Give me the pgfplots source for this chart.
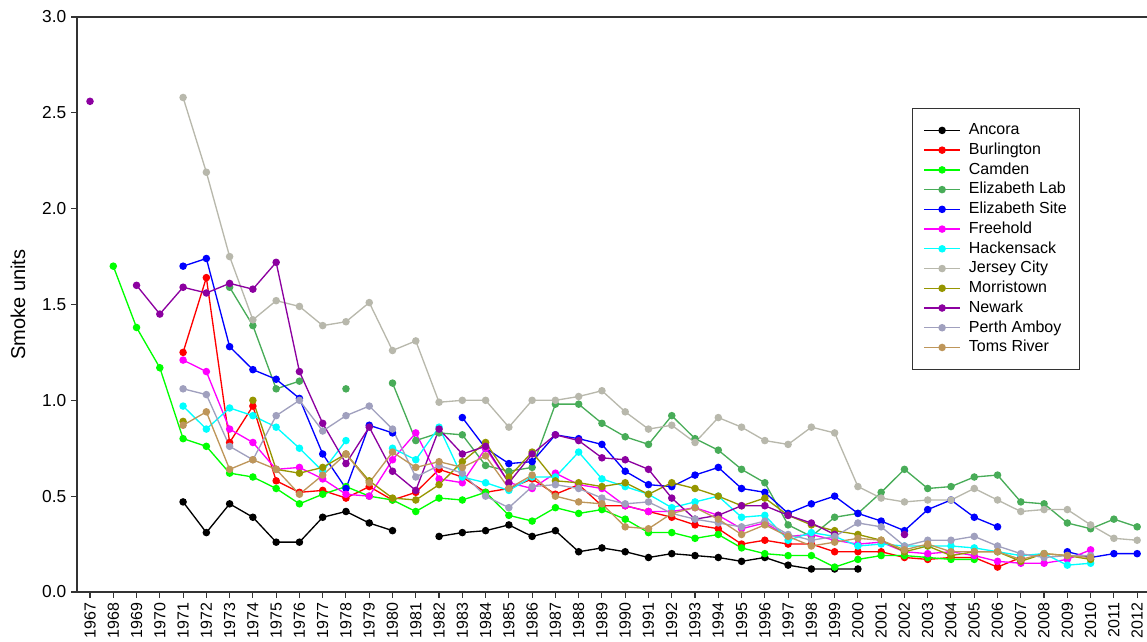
\documentclass[border=0pt]{standalone}
\usepackage{pgfplots}
\pgfplotsset{compat=1.18}
\usepackage{fontspec}
\setmainfont{Liberation Sans}
\definecolor{cAncora}{RGB}{0,0,0}
\definecolor{cBurl}{RGB}{255,0,0}
\definecolor{cCamden}{RGB}{0,255,0}
\definecolor{cElab}{RGB}{72,172,88}
\definecolor{cEsite}{RGB}{0,0,255}
\definecolor{cFree}{RGB}{255,0,255}
\definecolor{cHack}{RGB}{0,255,255}
\definecolor{cJersey}{RGB}{184,184,172}
\definecolor{cMorris}{RGB}{150,150,0}
\definecolor{cNewark}{RGB}{140,0,160}
\definecolor{cPerth}{RGB}{160,160,190}
\definecolor{cToms}{RGB}{190,150,90}
\begin{document}
\begin{tikzpicture}
\useasboundingbox (-57.75pt,-37.5pt) rectangle (802.5pt,444pt);
\begin{scope}
\clip (-57.75pt,-37.5pt) rectangle (802.5pt,444pt);
\begin{axis}[
  at={(0pt,0pt)}, anchor=south west,
  width=803.85pt, height=431.25pt, scale only axis,
  xmin=1966.441, xmax=2012.5, ymin=0, ymax=3,
  xtick={1967,...,2012}, ytick={0,0.5,...,3},
  tick align=outside, xtick pos=bottom, ytick pos=left,
  major tick length=4.5pt,
  axis line style={black!80, line width=0.9pt},
  tick style={black!80, line width=0.8pt},
  /pgf/number format/assume math mode=true,
  x tick label style={rotate=90, anchor=east, font=\fontsize{12}{14}\selectfont, /pgf/number format/1000 sep={}},
  y tick label style={font=\fontsize{13}{15}\selectfont, /pgf/number format/.cd, fixed, fixed zerofill, precision=1},
  ylabel={Smoke units},
  ylabel style={at={(axis description cs:-0.0551,0.5)}, anchor=center, font=\fontsize{15}{17}\selectfont},
  unbounded coords=jump,
  every axis plot/.append style={line width=1pt, mark=*, mark size=2.3pt},
  legend cell align=left,
  legend image code/.code={\draw[mark repeat=2,mark phase=2,#1] plot coordinates {(0pt,0pt) (13.5pt,0pt) (27pt,0pt)};},
  legend style={at={(rel axis cs:0.7793,0.8417)}, anchor=north west, draw=black!80, line width=0.8pt,
    font=\fontsize{12}{14}\selectfont, inner xsep=8pt, inner ysep=9pt, row sep=0pt, column sep=4.5pt,
    nodes={inner sep=1.6pt, text height=9pt, text depth=2.6pt}},
]
\addplot[cAncora] coordinates {(1971,0.47)(1972,0.31)(1973,0.46)(1974,0.39)(1975,0.26)(1976,0.26)(1977,0.39)(1978,0.42)(1979,0.36)(1980,0.32)(1981,nan)(1982,0.29)(1983,0.31)(1984,0.32)(1985,0.35)(1986,0.29)(1987,0.32)(1988,0.21)(1989,0.23)(1990,0.21)(1991,0.18)(1992,0.20)(1993,0.19)(1994,0.18)(1995,0.16)(1996,0.18)(1997,0.14)(1998,0.12)(1999,0.12)(2000,0.12)};
\addlegendentry{Ancora}
\addplot[cBurl] coordinates {(1971,1.25)(1972,1.64)(1973,0.78)(1974,0.97)(1975,0.58)(1976,0.52)(1977,0.53)(1978,0.49)(1979,0.55)(1980,0.48)(1981,0.52)(1982,0.64)(1983,0.60)(1984,0.52)(1985,0.54)(1986,0.59)(1987,0.51)(1988,0.56)(1989,0.45)(1990,0.45)(1991,0.42)(1992,0.39)(1993,0.35)(1994,0.33)(1995,0.25)(1996,0.27)(1997,0.25)(1998,0.25)(1999,0.21)(2000,0.21)(2001,0.21)(2002,0.18)(2003,0.17)(2004,0.18)(2005,0.18)(2006,0.13)(2007,0.18)};
\addlegendentry{Burlington}
\addplot[cCamden] coordinates {(1968,1.70)(1969,1.38)(1970,1.17)(1971,0.80)(1972,0.76)(1973,0.62)(1974,0.60)(1975,0.54)(1976,0.46)(1977,0.51)(1978,0.55)(1979,0.50)(1980,0.48)(1981,0.42)(1982,0.49)(1983,0.48)(1984,0.52)(1985,0.40)(1986,0.37)(1987,0.44)(1988,0.41)(1989,0.43)(1990,0.38)(1991,0.31)(1992,0.31)(1993,0.28)(1994,0.30)(1995,0.23)(1996,0.20)(1997,0.19)(1998,0.19)(1999,0.13)(2000,0.17)(2001,0.19)(2002,0.19)(2003,0.18)(2004,0.17)(2005,0.17)};
\addlegendentry{Camden}
\addplot[cElab] coordinates {(1973,1.59)(1974,1.39)(1975,1.06)(1976,1.10)(1977,nan)(1978,1.06)(1979,nan)(1980,1.09)(1981,0.79)(1982,0.83)(1983,0.82)(1984,0.66)(1985,0.63)(1986,0.65)(1987,0.98)(1988,0.98)(1989,0.88)(1990,0.81)(1991,0.77)(1992,0.92)(1993,0.80)(1994,0.74)(1995,0.64)(1996,0.57)(1997,0.35)(1998,0.29)(1999,0.39)(2000,0.41)(2001,0.52)(2002,0.64)(2003,0.54)(2004,0.55)(2005,0.60)(2006,0.61)(2007,0.47)(2008,0.46)(2009,0.36)(2010,0.33)(2011,0.38)(2012,0.34)};
\addlegendentry{Elizabeth Lab}
\addplot[cEsite] coordinates {(1971,1.70)(1972,1.74)(1973,1.28)(1974,1.16)(1975,1.11)(1976,1.01)(1977,0.72)(1978,0.54)(1979,0.87)(1980,0.83)(1981,nan)(1983,0.91)(1984,0.75)(1985,0.67)(1986,0.68)(1987,0.82)(1988,0.80)(1989,0.77)(1990,0.63)(1991,0.56)(1992,0.55)(1993,0.61)(1994,0.65)(1995,0.54)(1996,0.52)(1997,0.41)(1998,0.46)(1999,0.50)(2000,0.41)(2001,0.37)(2002,0.32)(2003,0.43)(2004,0.48)(2005,0.39)(2006,0.34)(2007,nan)(2009,0.21)(2010,0.18)(2011,0.20)(2012,0.20)};
\addlegendentry{Elizabeth Site}
\addplot[cFree] coordinates {(1971,1.21)(1972,1.15)(1973,0.85)(1974,0.78)(1975,0.64)(1976,0.65)(1977,0.59)(1978,0.51)(1979,0.50)(1980,0.69)(1981,0.83)(1982,0.59)(1983,0.57)(1984,0.75)(1985,0.57)(1986,0.54)(1987,0.62)(1988,0.56)(1989,0.54)(1990,0.45)(1991,0.42)(1992,0.42)(1993,0.44)(1994,0.40)(1995,0.33)(1996,0.36)(1997,0.29)(1998,0.30)(1999,0.27)(2000,0.25)(2001,0.26)(2002,0.21)(2003,0.20)(2004,0.21)(2005,0.19)(2006,0.16)(2007,0.15)(2008,0.15)(2009,0.17)(2010,0.22)};
\addlegendentry{Freehold}
\addplot[cHack] coordinates {(1971,0.97)(1972,0.85)(1973,0.96)(1974,0.92)(1975,0.86)(1976,0.75)(1977,0.63)(1978,0.79)(1979,nan)(1980,0.75)(1981,0.69)(1982,0.86)(1983,0.60)(1984,0.57)(1985,0.53)(1986,0.60)(1987,0.60)(1988,0.73)(1989,0.59)(1990,0.55)(1991,0.51)(1992,0.44)(1993,0.47)(1994,0.50)(1995,0.39)(1996,0.40)(1997,0.27)(1998,0.31)(1999,0.29)(2000,0.24)(2001,0.25)(2002,0.24)(2003,0.24)(2004,0.24)(2005,0.23)(2006,0.21)(2007,0.19)(2008,0.20)(2009,0.14)(2010,0.15)};
\addlegendentry{Hackensack}
\addplot[cJersey] coordinates {(1971,2.58)(1972,2.19)(1973,1.75)(1974,1.42)(1975,1.52)(1976,1.49)(1977,1.39)(1978,1.41)(1979,1.51)(1980,1.26)(1981,1.31)(1982,0.99)(1983,1.00)(1984,1.00)(1985,0.86)(1986,1.00)(1987,1.00)(1988,1.02)(1989,1.05)(1990,0.94)(1991,0.85)(1992,0.87)(1993,0.78)(1994,0.91)(1995,0.86)(1996,0.79)(1997,0.77)(1998,0.86)(1999,0.83)(2000,0.55)(2001,0.49)(2002,0.47)(2003,0.48)(2004,0.48)(2005,0.54)(2006,0.48)(2007,0.42)(2008,0.43)(2009,0.43)(2010,0.35)(2011,0.28)(2012,0.27)};
\addlegendentry{Jersey City}
\addplot[cMorris] coordinates {(1971,0.89)(1972,nan)(1974,1.00)(1975,0.64)(1976,0.62)(1977,0.65)(1978,0.72)(1979,0.58)(1980,0.49)(1981,0.48)(1982,0.56)(1983,0.68)(1984,0.78)(1985,0.60)(1986,0.73)(1987,0.58)(1988,0.57)(1989,0.55)(1990,0.57)(1991,0.51)(1992,0.57)(1993,0.54)(1994,0.50)(1995,0.45)(1996,0.49)(1997,0.40)(1998,0.35)(1999,0.32)(2000,0.30)(2001,0.27)(2002,0.21)(2003,0.24)(2004,0.19)(2005,0.21)(2006,0.21)(2007,0.16)(2008,0.20)(2009,0.19)(2010,0.17)};
\addlegendentry{Morristown}
\addplot[cNewark] coordinates {(1967,2.56)(1968,nan)(1969,1.60)(1970,1.45)(1971,1.59)(1972,1.56)(1973,1.61)(1974,1.58)(1975,1.72)(1976,1.15)(1977,0.88)(1978,0.67)(1979,0.86)(1980,0.63)(1981,0.53)(1982,0.85)(1983,0.72)(1984,0.76)(1985,0.57)(1986,0.72)(1987,0.82)(1988,0.79)(1989,0.70)(1990,0.69)(1991,0.64)(1992,0.49)(1993,0.38)(1994,0.40)(1995,0.45)(1996,0.45)(1997,0.40)(1998,0.36)(1999,0.30)(2000,nan)(2002,0.30)};
\addlegendentry{Newark}
\addplot[cPerth] coordinates {(1971,1.06)(1972,1.03)(1973,0.76)(1974,0.69)(1975,0.92)(1976,1.00)(1977,0.84)(1978,0.92)(1979,0.97)(1980,0.85)(1981,0.60)(1982,0.66)(1983,0.62)(1984,0.50)(1985,0.44)(1986,0.55)(1987,0.56)(1988,0.54)(1989,0.49)(1990,0.46)(1991,0.47)(1992,0.41)(1993,0.38)(1994,0.36)(1995,0.34)(1996,0.37)(1997,0.30)(1998,0.27)(1999,0.29)(2000,0.36)(2001,0.34)(2002,0.24)(2003,0.27)(2004,0.27)(2005,0.29)(2006,0.24)(2007,0.20)(2008,0.18)(2009,0.19)(2010,0.19)};
\addlegendentry{Perth Amboy}
\addplot[cToms] coordinates {(1971,0.87)(1972,0.94)(1973,0.64)(1974,0.69)(1975,0.64)(1976,0.51)(1977,0.61)(1978,0.72)(1979,0.57)(1980,0.73)(1981,0.65)(1982,0.68)(1983,0.65)(1984,0.71)(1985,0.54)(1986,0.61)(1987,0.50)(1988,0.47)(1989,0.46)(1990,0.34)(1991,0.33)(1992,0.41)(1993,0.44)(1994,0.38)(1995,0.30)(1996,0.35)(1997,0.29)(1998,0.24)(1999,0.26)(2000,0.28)(2001,0.27)(2002,0.22)(2003,0.25)(2004,0.21)(2005,0.21)(2006,0.21)(2007,0.17)(2008,0.20)(2009,0.19)(2010,0.18)};
\addlegendentry{Toms River}
\end{axis}
\end{scope}
\end{tikzpicture}
\end{document}
